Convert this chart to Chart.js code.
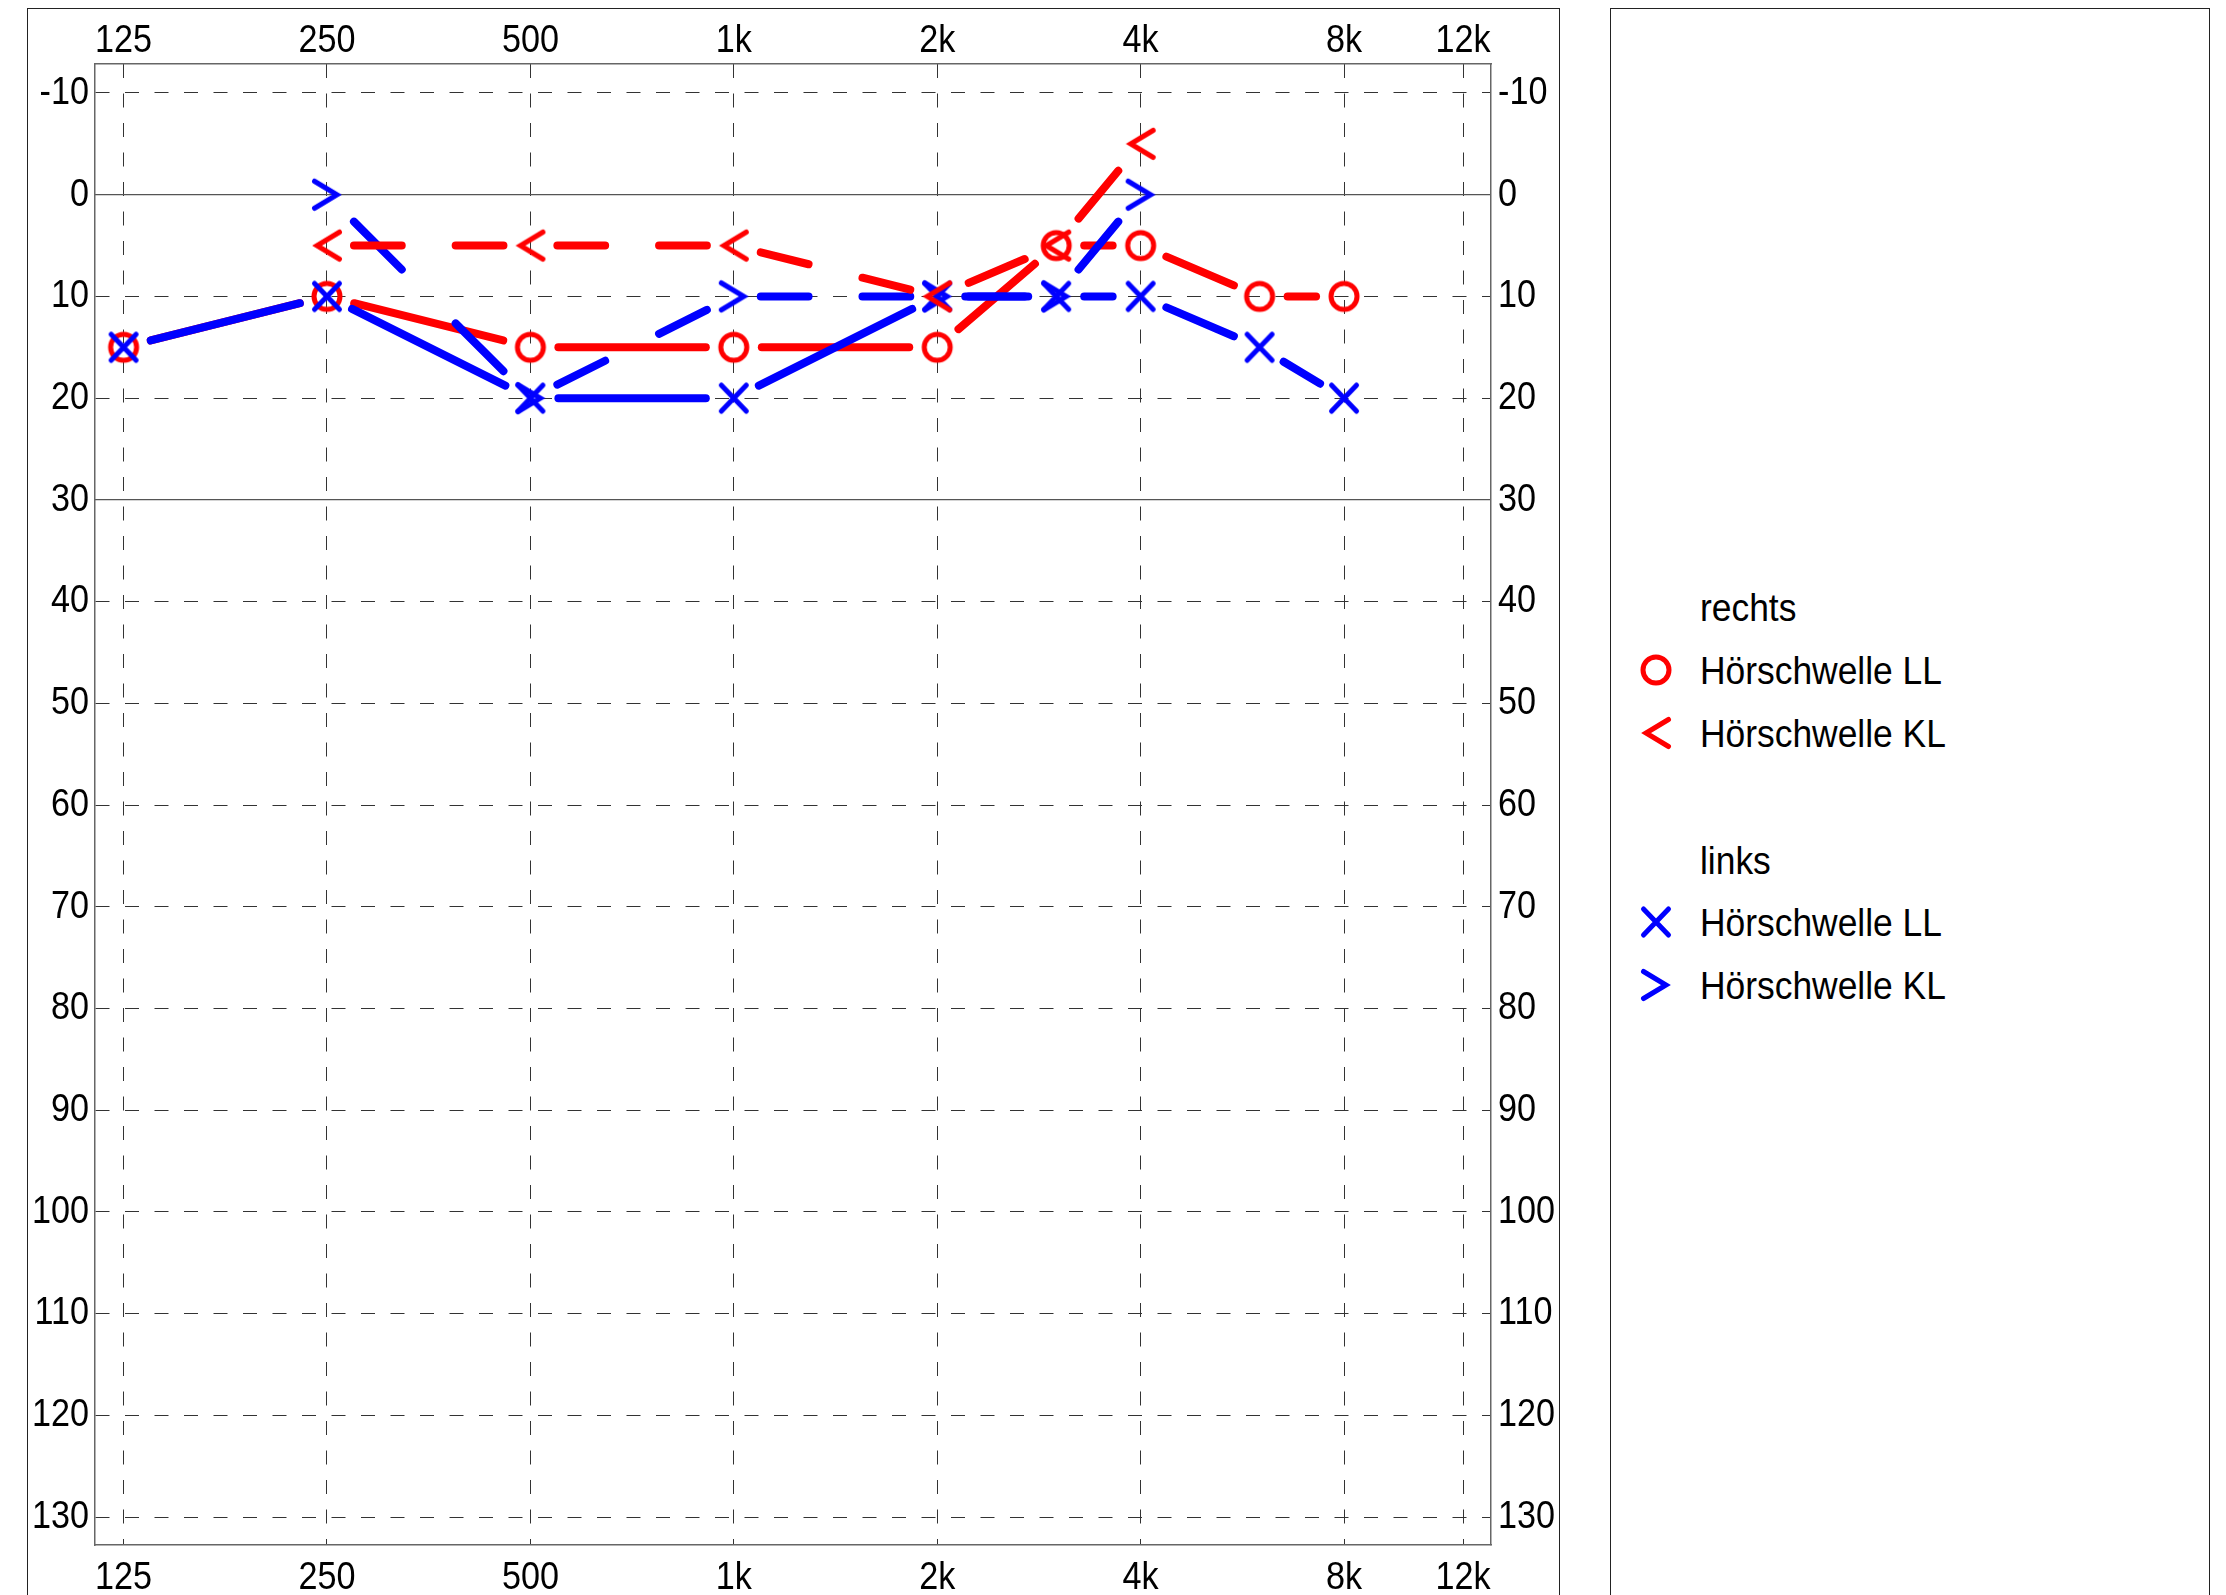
<!DOCTYPE html>
<html>
<head>
<meta charset="utf-8">
<script src="https://cdn.jsdelivr.net/npm/chart.js@4/dist/chart.umd.min.js"></script>
<style>
  html, body { margin: 0; padding: 0; background: #fff; overflow: hidden; width: 2226px; height: 1595px; }
  .box { position: absolute; border: 1px solid #222; box-sizing: border-box; }
  #wrap { position: absolute; left: 0; top: 0; width: 1600px; height: 1595px; }
  .lg { position: absolute; font-family: 'Liberation Sans', Arial, sans-serif;
        font-size: 39.5px; line-height: 40px; height: 40px; color: #000; white-space: nowrap;
        transform: scaleX(0.896); transform-origin: 0 0; }
  .lgm { position: absolute; width: 40px; height: 40px; }
</style>
</head>
<body>
<div class="box" style="left:27px; top:8px; width:1533px; height:1700px;"></div>
<div class="box" style="left:1610px; top:8px; width:600px; height:1700px;"></div>
<div id="wrap"><canvas id="audiogramm"></canvas></div>
<div id="legende"></div>
<script>
// Frequenzen (Hz) und Hörschwellen (dB HL)
const freqs = [125, 250, 500, 1000, 2000, 3000, 4000, 6000, 8000];
const rechtsLL = [15, 10, 15, 15, 15, 5, 5, 10, 10];
const rechtsKL = [null, 5, 5, 5, 10, 5, -5, null, null];
const linksLL = [15, 10, 20, 20, 10, 10, 10, 15, 20];
const linksKL = [null, 0, 20, 10, 10, 10, 0, null, null];

const freqTicks = [125, 250, 500, 1000, 2000, 4000, 8000, 12000];
const freqLabels = ['125', '250', '500', '1k', '2k', '4k', '8k', '12k'];
const dbTicks = [-10, 0, 10, 20, 30, 40, 50, 60, 70, 80, 90, 100, 110, 120, 130];
const solidDb = [0, 30];

const ROT = '#ff0000';
const BLAU = '#0000ff';
const fontFam = "'Liberation Sans', Arial, sans-serif";
const LINIE = 8;

// Symbole als kleine Canvas-Bilder
function symbol(kind, color) {
  const c = document.createElement('canvas');
  c.width = 40; c.height = 40;
  const g = c.getContext('2d');
  g.translate(20, 20);
  g.strokeStyle = color;
  g.lineWidth = 5;
  g.lineCap = 'round';
  g.lineJoin = 'miter';
  g.beginPath();
  if (kind === 'o') g.arc(0, 0, 13, 0, Math.PI * 2);
  if (kind === 'x') { g.moveTo(-12.5, -13); g.lineTo(12.5, 13); g.moveTo(12.5, -13); g.lineTo(-12.5, 13); }
  if (kind === '<') { g.moveTo(12.5, -13.5); g.lineTo(-10, 0); g.lineTo(12.5, 13.5); }
  if (kind === '>') { g.moveTo(-12.5, -13.5); g.lineTo(10, 0); g.lineTo(-12.5, 13.5); }
  g.stroke();
  return c;
}

// Linien enden kurz vor den Symbolen
const lueckeLL = 28;
function segLen(ctx) {
  return Math.hypot(ctx.p1.x - ctx.p0.x, ctx.p1.y - ctx.p0.y);
}
function segLL(color) {
  return {
    borderColor: color, borderWidth: LINIE, borderCapStyle: 'round', borderJoinStyle: 'round',
    borderDash: ctx => { const L = segLen(ctx); return [Math.max(L - 2 * lueckeLL, 0.5), 2 * lueckeLL]; },
    borderDashOffset: ctx => segLen(ctx) - lueckeLL
  };
}
function unitKL(ctx) {
  const L = segLen(ctx);
  const n = Math.max(1, Math.round(L / 130));
  return L / n;
}
function segKL(color) {
  return {
    borderColor: color, borderWidth: LINIE, borderCapStyle: 'round', borderJoinStyle: 'round',
    borderDash: ctx => { const u = unitKL(ctx); return [0.47 * u, 0.53 * u]; },
    borderDashOffset: ctx => 0.735 * unitKL(ctx)
  };
}

function punkte(werte) {
  return freqs.map((f, i) => ({ x: f, y: werte[i] }));
}

function reihe(label, werte, color, kind, seg, order) {
  return {
    label: label,
    data: punkte(werte),
    borderColor: color,
    borderWidth: LINIE,
    borderCapStyle: 'round',
    borderJoinStyle: 'round',
    tension: 0,
    fill: false,
    spanGaps: false,
    pointStyle: symbol(kind, color),
    pointRadius: 15,
    pointHoverRadius: 15,
    segment: seg(color),
    order: order
  };
}

const tickFont = { family: fontFam, size: 39.5 };
const dbMin = -12.85, dbMax = 132.75;
const fMin = 113.4, fMax = 13200;

const ctx = document.getElementById('audiogramm').getContext('2d');
// Schrift schmal laufen lassen wie im Original
const fillTextOrig = ctx.fillText;
ctx.fillText = function (t, x, y, mw) {
  const w = this.measureText(t).width * 0.865;
  return fillTextOrig.call(this, t, x, y, mw === undefined ? w : Math.min(mw, w));
};

const audiogramm = new Chart(ctx, {
  type: 'line',
  data: {
    datasets: [
      reihe('rechts Hörschwelle LL', rechtsLL, ROT, 'o', segLL, 4),
      reihe('rechts Hörschwelle KL', rechtsKL, ROT, '<', segKL, 1),
      reihe('links Hörschwelle LL', linksLL, BLAU, 'x', segLL, 3),
      reihe('links Hörschwelle KL', linksKL, BLAU, '>', segKL, 2)
    ]
  },
  options: {
    responsive: true,
    maintainAspectRatio: false,
    animation: false,
    events: [],
    layout: { padding: 0 },
    scales: {
      x: {
        type: 'logarithmic', position: 'bottom', min: fMin, max: fMax,
        afterBuildTicks: s => { s.ticks = freqTicks.map(v => ({ value: v })); },
        afterFit: s => { s.height = 50; },
        ticks: { font: tickFont, color: '#000', padding: 9, autoSkip: false, maxRotation: 0, minRotation: 0,
                 callback: (v, i) => freqLabels[i] },
        grid: { color: '#333', lineWidth: 1, drawTicks: false },
        border: { display: true, color: '#666', width: 1.5, dash: [14, 15.5] }
      },
      xTop: {
        type: 'logarithmic', position: 'top', min: fMin, max: fMax,
        afterBuildTicks: s => { s.ticks = freqTicks.map(v => ({ value: v })); },
        afterFit: s => { s.height = 64; },
        ticks: { font: tickFont, color: '#000', padding: -1, autoSkip: false, maxRotation: 0, minRotation: 0,
                 callback: (v, i) => freqLabels[i] },
        grid: { display: false, drawTicks: false },
        border: { display: true, color: '#666', width: 1.5 }
      },
      y: {
        type: 'linear', position: 'left', reverse: true, min: dbMin, max: dbMax,
        afterBuildTicks: s => { s.ticks = dbTicks.map(v => ({ value: v })); },
        afterFit: s => { s.width = 95; },
        ticks: { font: tickFont, color: '#000', padding: 6, callback: v => String(v) },
        grid: { drawTicks: false, lineWidth: 1,
                color: c => (c.tick && solidDb.includes(c.tick.value)) ? 'rgba(0,0,0,0)' : '#333' },
        border: { display: true, color: '#666', width: 1.5, dash: [14, 15.5] }
      },
      yRight: {
        type: 'linear', position: 'right', reverse: true, min: dbMin, max: dbMax,
        afterBuildTicks: s => { s.ticks = dbTicks.map(v => ({ value: v })); },
        afterFit: s => { s.width = 109; },
        ticks: { font: tickFont, color: '#000', padding: 7, callback: v => String(v) },
        grid: { drawTicks: false, lineWidth: 1.3,
                color: c => (c.tick && solidDb.includes(c.tick.value)) ? '#555' : 'rgba(0,0,0,0)' },
        border: { display: true, color: '#666', width: 1.5 }
      }
    },
    plugins: {
      legend: { display: false },
      tooltip: { enabled: false }
    }
  }
});

// Legende rechts
const legendeEintraege = [
  { text: 'rechts', y: 607 },
  { text: 'Hörschwelle LL', y: 670, kind: 'o', color: ROT },
  { text: 'Hörschwelle KL', y: 733, kind: '<', color: ROT },
  { text: 'links', y: 860 },
  { text: 'Hörschwelle LL', y: 922, kind: 'x', color: BLAU },
  { text: 'Hörschwelle KL', y: 985, kind: '>', color: BLAU }
];
const legende = document.getElementById('legende');
legendeEintraege.forEach(e => {
  const t = document.createElement('div');
  t.className = 'lg';
  t.textContent = e.text;
  t.style.left = '1700px';
  t.style.top = (e.y - 20) + 'px';
  legende.appendChild(t);
  if (e.kind) {
    const m = symbol(e.kind, e.color);
    m.className = 'lgm';
    m.style.left = (1656 - 20) + 'px';
    m.style.top = (e.y - 20) + 'px';
    legende.appendChild(m);
  }
});
</script>
</body>
</html>
